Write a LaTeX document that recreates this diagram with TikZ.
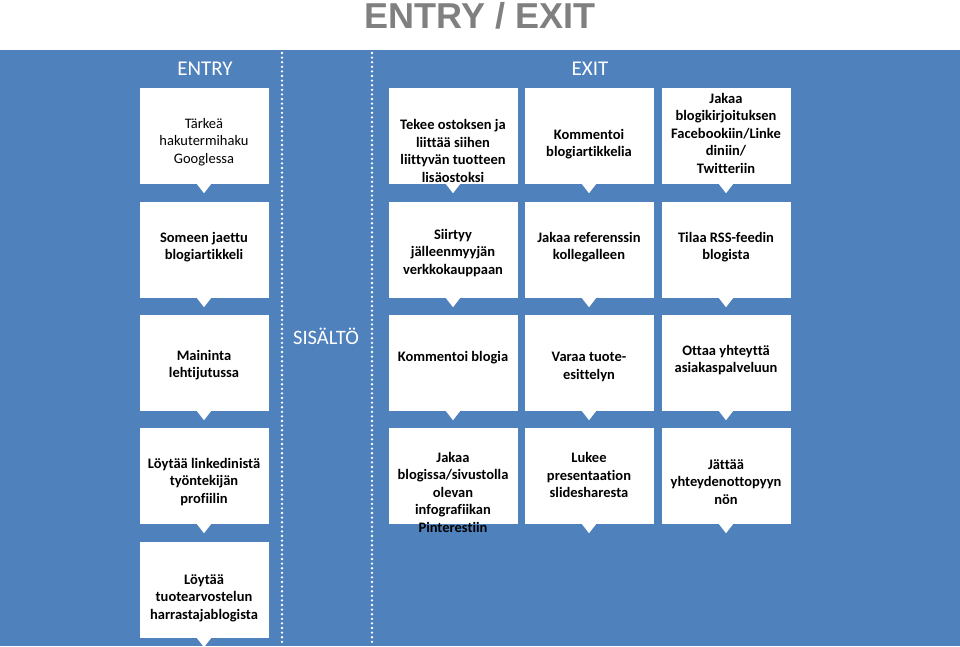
\documentclass[tikz,border=0pt]{standalone}
\usepackage{fontspec}
\setmainfont{Carlito}[Ligatures=NoCommon]
\newfontfamily\titlefont{Liberation Sans}
\definecolor{bandblue}{RGB}{79,129,189}
\definecolor{titlegray}{RGB}{128,128,128}
\tikzset{
  card/.style={fill=white, minimum width=129pt, minimum height=96pt, inner sep=0pt},
  cardtext/.style={align=center, font=\fontsize{14.5}{17.5}\selectfont\bfseries},
  head/.style={text=white, font=\fontsize{21}{24}\selectfont},
  sep/.style={white, line width=2.6pt, line cap=round, dash pattern=on 0pt off 4.6pt},
}
\begin{document}
\begin{tikzpicture}[x=1pt, y=-1pt]
\useasboundingbox (0,0) rectangle (960,646);
\fill[bandblue] (0,50) rectangle (960,646);
\node[font=\titlefont\bfseries\fontsize{36}{40}\selectfont, text=titlegray] (title) at (480,16) {ENTRY / EXIT};
% column separators
\coordinate (s1) at (282,53);
\coordinate (s2) at (372,53);
\draw[sep] (s1) -- (282,646);
\draw[sep] (s2) -- (372,646);
\node[head] (entry) at (205,69) {ENTRY};
\node[head] (exit)  at (590,69) {EXIT};
\node[head, font=\fontsize{20.5}{24}\selectfont] (sisalto) at (326,336) {SISÄLTÖ};
% cards
\node[card] (google)   at (204,136) {};
\node[card] (some)     at (204,250) {};
\node[card] (maininta) at (204,363) {};
\node[card] (linkedin) at (204,476) {};
\node[card] (harrast)  at (204,590) {};
\node[card] (ostos)    at (453,136) {};
\node[card] (siirtyy)  at (453,250) {};
\node[card] (kommblog) at (453,363) {};
\node[card] (pinter)   at (453,476) {};
\node[card] (kommart)  at (589,136) {};
\node[card] (referens) at (589,250) {};
\node[card] (varaa)    at (589,363) {};
\node[card] (slide)    at (589,476) {};
\node[card] (jakaa)    at (726,136) {};
\node[card] (rss)      at (726,250) {};
\node[card] (yhteys)   at (726,363) {};
\node[card] (jattaa)   at (726,476) {};
\foreach \n in {google,some,maininta,linkedin,harrast,ostos,siirtyy,kommblog,
                kommart,referens,varaa,slide,jakaa,rss,yhteys,jattaa}
  \fill[white] ([xshift=-7pt]\n.south) -- ([xshift=7pt]\n.south)
               -- ([yshift=-9pt]\n.south) -- cycle;
% texts
\node[cardtext, font=\fontsize{14.5}{17.5}\selectfont] (t-google) at (204,142) {Tärkeä\\hakutermihaku\\Googlessa};
\node[cardtext] (t-some)     at (204,247) {Someen jaettu\\blogiartikkeli};
\node[cardtext] (t-maininta) at (204,365) {Maininta\\lehtijutussa};
\node[cardtext] (t-linkedin) at (204,482) {Löytää linkedinistä\\työntekijän\\profiilin};
\node[cardtext] (t-harrast)  at (204,598) {Löytää\\tuotearvostelun\\harrastajablogista};
\node[cardtext] (t-ostos)    at (453,151) {Tekee ostoksen ja\\liittää siihen\\liittyvän tuotteen\\lisäostoksi};
\node[cardtext] (t-siirtyy)  at (453,253) {Siirtyy\\jälleenmyyjän\\verkkokauppaan};
\node[cardtext] (t-kommblog) at (453,358) {Kommentoi blogia};
\node[cardtext] (t-pinter)   at (453,492) {Jakaa\\blogissa/sivustolla\\olevan\\infografiikan\\Pinterestiin};
\node[cardtext] (t-kommart)  at (589,144) {Kommentoi\\blogiartikkelia};
\node[cardtext] (t-referens) at (589,247) {Jakaa referenssin\\kollegalleen};
\node[cardtext] (t-varaa)    at (589,367) {Varaa tuote-\\esittelyn};
\node[cardtext] (t-slide)    at (589,475) {Lukee\\presentaation\\slidesharesta};
\node[cardtext] (t-jakaa)    at (726,133) {Jakaa\\blogikirjoituksen\\Facebookiin/Linke\\diniin/\\Twitteriin};
\node[cardtext] (t-rss)      at (726,247) {Tilaa RSS-feedin\\blogista};
\node[cardtext] (t-yhteys)   at (726,360) {Ottaa yhteyttä\\asiakaspalveluun};
\node[cardtext] (t-jattaa)   at (726,482) {Jättää\\yhteydenottopyyn\\nön};
\end{tikzpicture}
\end{document}
